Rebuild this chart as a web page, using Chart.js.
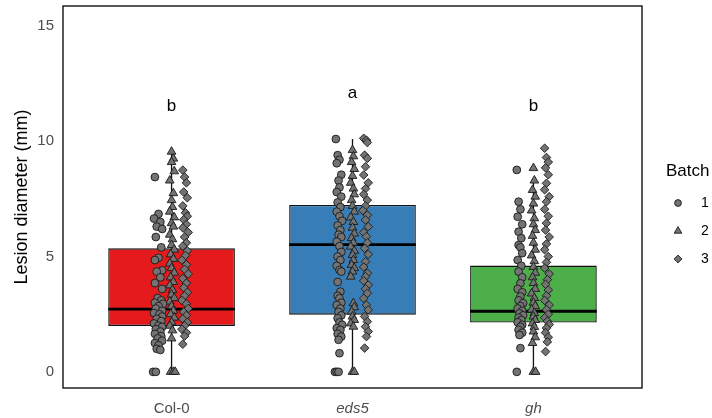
<!DOCTYPE html>
<html>
<head>
<meta charset="utf-8">
<script src="https://cdn.jsdelivr.net/npm/chart.js@4.4.1/dist/chart.umd.min.js"></script>
<style>
  html, body { margin: 0; background: #fff; }
  #wrap { width: 712px; height: 418px; }
</style>
</head>
<body>
<div id="wrap"><canvas id="chart"></canvas></div>
<script>
// ---- data ----
const categories = ['Col-0', 'eds5', 'gh'];
const italicCats = [false, true, true];
const yTicks = [0, 5, 10, 15];

// box statistics (mm)
const whiskerLow = [0, 0, 0];
const q1 = [1.99, 2.48, 2.14];
const median = [2.72, 5.52, 2.63];
const q3 = [5.36, 7.24, 4.61];
const whiskerHigh = [9.6, 10.1, 8.3];
const boxColors = ['#E41A1C', '#377EB8', '#4DAF4A'];

// significance letters
const letters = ['b', 'a', 'b'];
const letterY = [11.5, 12.1, 11.5];

// batches (dodged inside each genotype)
const batches = ['1', '2', '3'];
const batchOffset = [-0.072, 0, 0.072];

// jittered points: [x jitter in category units, lesion diameter]
const col0Batch1 = [[-0.02,8.45],[0,6.85],[-0.025,6.65],[0.01,6.5],[-0.01,6.3],[0.02,6.2],[-0.015,5.85],[0.015,5.4],[0,4.95],[-0.02,4.85],[0.02,4.4],[-0.01,4.35],[0.01,4.1],[-0.02,3.85],[0.02,3.6],[-0.005,3.2],[0.015,3.1],[-0.02,3.0],[0.025,2.95],[0,2.85],[-0.015,2.75],[0.02,2.65],[-0.025,2.55],[0.005,2.5],[0.02,2.4],[-0.01,2.3],[0.015,2.2],[-0.025,2.1],[0,2.0],[0.02,1.95],[-0.015,1.85],[0.01,1.75],[-0.02,1.65],[0.015,1.55],[-0.005,1.45],[0.02,1.35],[-0.02,1.25],[0,1.15],[-0.01,1.0],[0.01,0.95],[-0.03,0],[-0.015,0]];
const col0Batch2 = [[0,9.55],[0.01,9.25],[0,9.1],[0.015,8.7],[-0.01,8.3],[0.01,7.75],[0,7.45],[0.005,7.15],[-0.01,6.95],[0.015,6.7],[0,6.45],[0.01,6.3],[-0.01,5.95],[0.005,5.75],[0,5.5],[0.015,5.3],[-0.005,5.1],[0.01,4.9],[-0.01,4.7],[0,4.5],[0.015,4.3],[-0.005,4.1],[0.01,3.9],[-0.01,3.75],[0.005,3.55],[0,3.35],[0.015,3.2],[-0.01,3.05],[0,2.85],[0.01,2.65],[-0.005,2.5],[0.015,2.35],[0,2.15],[-0.01,2.0],[0.005,1.8],[0,1.45],[-0.005,0],[0.01,0],[0.02,0]];
const col0Batch3 = [[-0.01,8.75],[0,8.45],[0.01,8.2],[-0.005,7.8],[0.015,7.55],[-0.01,7.2],[0.005,6.9],[0.015,6.75],[-0.005,6.6],[0.01,6.4],[-0.01,6.25],[0.02,6.05],[0,5.85],[0.01,5.6],[-0.01,5.45],[0.015,5.25],[0.005,5.05],[-0.015,4.85],[0.01,4.65],[0,4.45],[0.02,4.25],[-0.01,4.05],[0.01,3.85],[-0.005,3.65],[0.015,3.45],[0,3.3],[-0.015,3.1],[0.01,2.95],[0.02,2.75],[-0.005,2.6],[0.01,2.45],[-0.01,2.3],[0.015,2.15],[0,2.0],[-0.015,1.85],[0.01,1.7],[0,1.55],[-0.01,1.2]];

const eds5Batch1 = [[-0.02,10.1],[-0.01,9.4],[0,9.2],[-0.015,9.05],[0.01,8.55],[-0.005,8.3],[0,8.0],[-0.015,7.8],[0.01,7.6],[-0.01,7.35],[0.005,7.15],[-0.015,6.95],[0,6.75],[0.015,6.55],[-0.01,6.35],[0.005,6.15],[-0.005,5.95],[0.01,5.85],[-0.015,5.65],[0,5.45],[0.01,5.2],[-0.01,5.0],[0.005,4.85],[-0.015,4.6],[0,4.42],[0.01,4.35],[-0.01,3.9],[0.005,3.48],[-0.01,3.3],[0,3.19],[0.01,3.0],[-0.015,2.9],[0.005,2.75],[-0.005,2.6],[0.01,2.45],[-0.01,2.33],[0,2.15],[0.015,2.04],[-0.015,1.9],[0.005,1.82],[-0.01,1.65],[0.01,1.53],[-0.005,1.39],[0,0.81],[-0.025,0],[-0.015,0],[-0.005,0]];
const eds5Batch2 = [[0,9.62],[0.005,9.35],[-0.005,9.1],[0.01,8.8],[0,8.5],[-0.01,8.2],[0.005,7.95],[0.01,7.7],[-0.005,7.45],[0,7.2],[0.01,6.95],[-0.01,6.7],[0.005,6.5],[0,6.25],[0.01,6.0],[-0.005,5.8],[0.005,5.6],[-0.01,5.43],[0.01,5.25],[0,5.07],[0.005,4.85],[-0.005,4.64],[0.01,4.5],[0,4.35],[-0.01,4.13],[0.005,2.98],[0.01,2.8],[-0.005,2.61],[0,2.4],[0.01,2.25],[-0.01,2.1],[0.005,1.96],[0,0],[0.01,0]];
const eds5Batch3 = [[-0.01,10.13],[0.005,10.05],[0.01,9.95],[-0.005,9.4],[0.01,9.26],[0,8.9],[-0.01,8.54],[0.015,8.2],[0,7.95],[-0.01,7.7],[0.01,7.45],[0,7.2],[-0.015,7.0],[0.01,6.8],[0,6.59],[0.015,6.3],[-0.01,6.05],[0.005,5.87],[0.01,5.6],[-0.005,5.36],[0.015,5.1],[0,4.78],[-0.01,4.55],[0.01,4.28],[0,4.13],[-0.01,3.95],[0.015,3.77],[0,3.6],[0.01,3.41],[-0.01,3.19],[0.005,2.9],[0.015,2.69],[-0.005,2.4],[0.01,2.18],[0,1.96],[0.015,1.75],[0.005,1.53],[-0.005,1.03]];

const ghBatch1 = [[-0.02,8.76],[-0.01,7.38],[0,7.05],[-0.015,6.73],[0.01,6.4],[-0.01,6.08],[0.005,5.8],[-0.01,5.5],[0,5.4],[0.01,5.15],[-0.015,4.85],[0.005,4.6],[-0.01,4.35],[0.01,4.1],[0,3.84],[-0.015,3.6],[0.01,3.45],[0,3.27],[-0.01,3.1],[0.015,2.98],[0,2.85],[-0.015,2.75],[0.01,2.65],[-0.005,2.54],[0.015,2.45],[-0.01,2.35],[0.005,2.25],[-0.015,2.15],[0.01,2.04],[0,1.95],[-0.01,1.82],[0.01,1.7],[-0.005,1.6],[0,1.03],[-0.02,0]];
const ghBatch2 = [[0,8.84],[0.005,8.3],[-0.005,7.89],[0.01,7.6],[0,7.3],[-0.01,7.0],[0.005,6.66],[0,6.4],[0.01,6.15],[-0.005,5.9],[0,5.6],[0.01,5.3],[-0.01,5.05],[0.005,4.8],[0,4.55],[0.01,4.3],[-0.005,4.1],[0,3.85],[0.01,3.6],[-0.01,3.4],[0.005,3.2],[0,3.0],[0.01,2.85],[-0.01,2.7],[0.005,2.55],[0,2.4],[0.01,2.25],[-0.005,2.1],[0.005,1.95],[0,1.75],[0.01,1.5],[-0.005,1.25],[0,0],[0.012,0]];
const ghBatch3 = [[-0.01,9.7],[0,9.3],[0.01,9.1],[-0.005,8.85],[0.01,8.55],[0,8.18],[-0.01,7.9],[0.015,7.6],[0,7.38],[-0.01,7.05],[0.01,6.75],[0,6.45],[-0.005,6.15],[0.015,5.85],[0,5.55],[-0.01,5.3],[0.01,5.0],[0,4.75],[-0.01,4.5],[0.015,4.25],[0.005,4.0],[-0.005,3.8],[0.01,3.55],[0,3.3],[-0.01,3.1],[0.015,2.9],[0,2.7],[0.01,2.5],[-0.01,2.35],[0.005,2.2],[0.015,2.05],[0,1.9],[-0.005,1.7],[0.01,1.5],[0.005,1.3],[-0.005,0.88]];

const pointsByBatch = [
  [col0Batch1, eds5Batch1, ghBatch1],
  [col0Batch2, eds5Batch2, ghBatch2],
  [col0Batch3, eds5Batch3, ghBatch3]
];

// ---- styling ----
const FONT = '"Liberation Sans", Arial, Helvetica, sans-serif';
const pointStyles = ['circle', 'triangle', 'rectRot'];
const pointRadii = [3.9, 5.0, 4.3];
const legendRadii = [3.4, 4.4, 3.9];
const pointFill = '#737373';
const pointEdge = '#1a1a1a';

// ---- datasets ----
const boxDataset = {
  type: 'bar',
  label: 'box',
  data: categories.map((c, i) => ({ x: i + 1, y: [q1[i], q3[i]] })),
  backgroundColor: boxColors,
  borderColor: '#111',
  borderWidth: 1.4,
  borderSkipped: false,
  barPercentage: 0.7,
  categoryPercentage: 1.0,
  order: 10
};

const pointDatasets = batches.map((b, bi) => ({
  type: 'scatter',
  label: b,
  data: pointsByBatch[bi].flatMap((pts, gi) =>
    pts.map(p => ({ x: gi + 1 + batchOffset[bi] + p[0], y: p[1] }))),
  pointStyle: pointStyles[bi],
  pointRadius: pointRadii[bi],
  backgroundColor: pointFill,
  borderColor: pointEdge,
  borderWidth: 0.9,
  order: 1
}));

// whiskers, medians, frame, letters and legend
const boxplotExtras = {
  id: 'boxplotExtras',
  beforeDatasetsDraw(chart) {
    const { ctx, scales: { x, y } } = chart;
    ctx.save();
    ctx.strokeStyle = '#111';
    ctx.lineWidth = 1.3;
    categories.forEach((c, i) => {
      const px = x.getPixelForValue(i + 1);
      ctx.beginPath();
      ctx.moveTo(px, y.getPixelForValue(whiskerLow[i]));
      ctx.lineTo(px, y.getPixelForValue(q1[i]));
      ctx.moveTo(px, y.getPixelForValue(q3[i]));
      ctx.lineTo(px, y.getPixelForValue(whiskerHigh[i]));
      ctx.stroke();
    });
    ctx.restore();
  },
  afterDatasetDraw(chart, args) {
    if (args.index !== 0) return;
    const { ctx, scales: { x, y } } = chart;
    ctx.save();
    ctx.strokeStyle = '#000';
    ctx.lineWidth = 2.8;
    categories.forEach((c, i) => {
      const py = y.getPixelForValue(median[i]);
      ctx.beginPath();
      ctx.moveTo(x.getPixelForValue(i + 1 - 0.35), py);
      ctx.lineTo(x.getPixelForValue(i + 1 + 0.35), py);
      ctx.stroke();
    });
    ctx.restore();
  },
  afterDraw(chart) {
    const { ctx, chartArea: a, scales: { x, y } } = chart;
    ctx.save();
    // panel frame
    ctx.strokeStyle = '#000';
    ctx.lineWidth = 1.3;
    ctx.strokeRect(a.left, a.top, a.right - a.left, a.bottom - a.top);

    // letters
    ctx.fillStyle = '#000';
    ctx.font = '17px ' + FONT;
    ctx.textAlign = 'center';
    ctx.textBaseline = 'middle';
    letters.forEach((l, i) => {
      ctx.fillText(l, x.getPixelForValue(i + 1), y.getPixelForValue(letterY[i]));
    });

    // legend
    ctx.textAlign = 'left';
    ctx.font = '17px ' + FONT;
    ctx.fillText('Batch', a.right + 24, 171);
    ctx.font = '14px ' + FONT;
    batches.forEach((b, bi) => {
      const cy = 203 + bi * 28;
      ctx.fillStyle = pointFill;
      ctx.strokeStyle = pointEdge;
      ctx.lineWidth = 0.9;
      Chart.helpers.drawPoint(ctx, {
        pointStyle: pointStyles[bi],
        radius: legendRadii[bi],
        borderWidth: 0.9
      }, a.right + 36, cy);
      ctx.fillStyle = '#000';
      ctx.fillText(b, a.right + 59, cy);
    });
    ctx.restore();
  }
};

new Chart(document.getElementById('chart'), {
  type: 'scatter',
  data: { datasets: [boxDataset, ...pointDatasets] },
  plugins: [boxplotExtras],
  options: {
    responsive: true,
    maintainAspectRatio: false,
    animation: false,
    layout: { padding: { left: 0, right: 70, top: 6, bottom: 0 } },
    plugins: {
      legend: { display: false },
      tooltip: { enabled: false }
    },
    scales: {
      x: {
        type: 'linear',
        offset: false,
        min: 0.4,
        max: 3.6,
        afterBuildTicks: s => { s.ticks = categories.map((c, i) => ({ value: i + 1 })); },
        afterFit: s => { s.height = 30; s.paddingLeft = 0; s.paddingRight = 0; },
        grid: { display: false, drawTicks: false },
        border: { display: false },
        ticks: {
          autoSkip: false,
          maxRotation: 0,
          padding: 12,
          color: '#4d4d4d',
          font: ctx => ({ family: FONT, size: 15, style: italicCats[ctx.index] ? 'italic' : 'normal' }),
          callback: v => categories[v - 1]
        }
      },
      y: {
        type: 'linear',
        min: -0.7,
        max: 15.87,
        afterBuildTicks: s => { s.ticks = yTicks.map(v => ({ value: v })); },
        afterFit: s => { s.width = 63; s.paddingTop = 0; s.paddingBottom = 0; },
        grid: { display: false, drawTicks: false },
        border: { display: false },
        ticks: {
          padding: 9,
          color: '#4d4d4d',
          font: { family: FONT, size: 15 }
        },
        title: {
          display: true,
          text: 'Lesion diameter (mm)',
          color: '#000',
          font: { family: FONT, size: 18 },
          padding: { top: 11, bottom: 0 }
        }
      }
    }
  }
});
</script>
</body>
</html>
